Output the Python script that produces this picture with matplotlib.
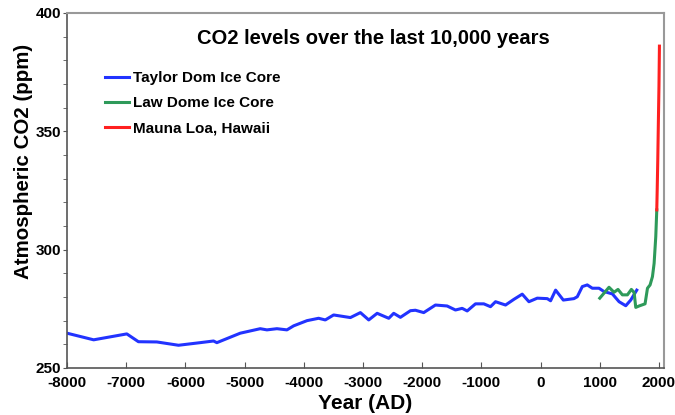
import numpy as np
import matplotlib
matplotlib.use("Agg")
from matplotlib import pyplot as plt
from matplotlib.ticker import MultipleLocator

# Taylor Dome ice core (year AD, ppm)
taylor_year = [-8000, -7550, -6990, -6794, -6483, -6117, -5751, -5525, -5469, -5074,
               -4736, -4623, -4454, -4285, -4172, -3946, -3750, -3637, -3496, -3213,
               -3044, -2903, -2761, -2565, -2481, -2368, -2199, -2115, -1974, -1776,
               -1579, -1438, -1325, -1240, -1100, -959, -846, -761, -592, -451,
               -310, -197, -56, 113, 169, 254, 384, 563, 620, 705,
               789, 874, 987, 1071, 1213, 1326, 1439, 1523, 1625]
taylor_co2 = [264.7, 261.9, 264.4, 261.1, 261.0, 259.6, 260.7, 261.4, 260.7, 264.7,
              266.6, 266.1, 266.6, 266.1, 267.8, 270.0, 271.0, 270.3, 272.4, 271.3,
              273.4, 270.3, 273.1, 271.0, 273.1, 271.4, 274.2, 274.4, 273.4, 276.6,
              276.2, 274.5, 275.2, 274.1, 277.1, 277.1, 275.9, 278.0, 276.6, 279.0,
              281.2, 278.0, 279.5, 279.3, 278.4, 282.9, 278.7, 279.3, 280.1, 284.4,
              285.1, 283.7, 283.7, 282.3, 281.3, 278.0, 276.3, 278.7, 282.9]

# Law Dome ice core
law_year = [1000, 1156, 1241, 1308, 1382, 1467, 1534, 1580, 1608, 1664,
            1765, 1806, 1850, 1890, 1918, 1946, 1963]
law_co2 = [279.5, 284.1, 282.0, 283.2, 280.9, 280.9, 283.2, 281.9, 275.6, 276.2,
           277.1, 283.7, 285.1, 288.6, 294.2, 305.5, 316.8]

# Mauna Loa
ml_year = [1963, 1970, 1980, 1990, 2000, 2008]
ml_co2 = [316.8, 325.0, 338.0, 354.0, 369.0, 386.0]

x_ticks = list(range(-8000, 2001, 1000))
x_labels = [str(v) for v in x_ticks]
y_ticks = [250, 300, 350, 400]
y_labels = [str(v) for v in y_ticks]

plt.rcParams['font.family'] = ['Liberation Sans', 'DejaVu Sans']

fig = plt.figure(figsize=(6.75, 4.15), dpi=100)
ax = fig.add_axes([0.0993, 0.1133, 0.8844, 0.8554])

ax.plot(taylor_year, taylor_co2, color='#2233ff', lw=2.2, label='Taylor Dom Ice Core')
ax.plot(law_year, law_co2, color='#2e9a5a', lw=2.2, label='Law Dome Ice Core')
ax.plot(ml_year, ml_co2, color='#ff2020', lw=2.2, label='Mauna Loa, Hawaii')

ax.set_xlim(-8000, 2085)
ax.set_ylim(250, 400)
ax.set_xticks(x_ticks, x_labels, fontsize=11, fontweight='bold')
ax.set_yticks(y_ticks, y_labels, fontsize=11, fontweight='bold')
ax.yaxis.set_minor_locator(MultipleLocator(10))
ax.tick_params(axis='x', direction='in', length=4, color='#555555', pad=6)
ax.tick_params(axis='y', which='both', direction='out', length=3, color='#555555', pad=1)

for s in ['left', 'bottom']:
    ax.spines[s].set_color('#555555')
    ax.spines[s].set_linewidth(1.2)
for s in ['top', 'right']:
    ax.spines[s].set_color('#999999')
    ax.spines[s].set_linewidth(1.5)

ax.set_xlabel('Year (AD)', fontsize=15, fontweight='bold', labelpad=3)
ax.set_ylabel('Atmospheric CO2 (ppm)', fontsize=14.8, fontweight='bold')
ax.yaxis.set_label_coords(-0.057, 0.583)
ax.set_title('CO2 levels over the last 10,000 years', fontsize=14.5, fontweight='bold',
             x=0.513, y=0.89)

leg = ax.legend(loc='upper left', bbox_to_anchor=(0.04, 0.875), frameon=False,
                handlelength=1.6, handletextpad=0.25, labelspacing=0.72,
                prop={'weight': 'bold', 'size': 11})

fig.savefig('out.png', dpi=100)
